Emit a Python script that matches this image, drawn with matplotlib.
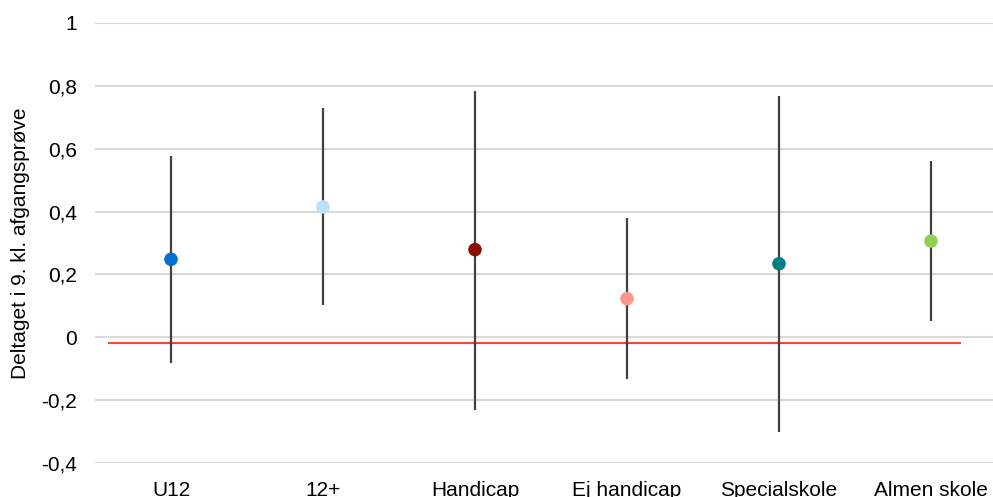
import numpy as np
import matplotlib.pyplot as plt

plt.rcParams['font.family'] = ['Liberation Sans', 'DejaVu Sans']

categories = ['U12', '12+', 'Handicap', 'Ej handicap', 'Specialskole', 'Almen skole']
estimate = [0.248, 0.415, 0.279, 0.123, 0.234, 0.306]
lower = [-0.082, 0.104, -0.230, -0.134, -0.301, 0.052]
upper = [0.577, 0.729, 0.784, 0.381, 0.768, 0.561]
colors = ['#0070D2', '#BDE0F8', '#8B0E00', '#F7968B', '#007E86', '#8ED04F']

reference_level = -0.017
ref_x = [-0.41, 5.19]

fig = plt.figure(figsize=(9.93, 4.97), dpi=100)
ax = fig.add_axes([95 / 993, 1 - 463 / 497, 912 / 993, (463 - 23) / 497])

x = np.arange(len(categories))
ax.vlines(x, lower, upper, color='#404040', linewidth=1.6, zorder=3)
ax.scatter(x, estimate, s=95, c=colors, zorder=4, linewidths=0)
ax.plot(ref_x, [reference_level, reference_level], color='#F4473B', linewidth=1.5, zorder=2)

ax.set_xlim(-0.5, 5.5)
ax.set_ylim(-0.4, 1.0)
yt = np.arange(-0.4, 1.01, 0.2)
ax.set_yticks(yt)
ax.set_yticklabels([('%g' % round(v, 1)).replace('.', ',') for v in yt])
ax.set_xticks(x)
ax.set_xticklabels(categories)
ax.tick_params(axis='both', length=0, labelsize=15, colors='#000000')
ax.tick_params(axis='y', pad=13)
ax.tick_params(axis='x', pad=13)
ax.grid(axis='y', color='#D9D9D9', linewidth=1.5, zorder=0)
ax.set_axisbelow(True)
for s in ax.spines.values():
    s.set_visible(False)

ax.set_ylabel('Deltaget i 9. kl. afgangsprøve', fontsize=15, labelpad=8)

fig.savefig('out.png', dpi=100, facecolor='white')
